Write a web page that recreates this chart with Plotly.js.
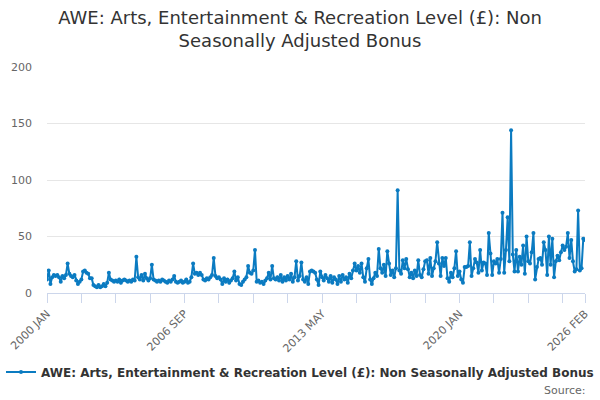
<!DOCTYPE html>
<html>
<head>
<meta charset="utf-8">
<script src="https://cdn.plot.ly/plotly-3.0.1.min.js"></script>
<style>
  html, body { margin: 0; padding: 0; background: #fff; }
  #chart { width: 600px; height: 400px; }
</style>
</head>
<body>
<div id="chart"></div>
<script>
// ======================= DATA =======================
const MONTHS = ['JAN','FEB','MAR','APR','MAY','JUN','JUL','AUG','SEP','OCT','NOV','DEC'];
const FIRST_YEAR = 2000;
const SERIES_NAME = 'AWE: Arts, Entertainment & Recreation Level (£): Non Seasonally Adjusted Bonus';

// monthly bonus values, 2000 JAN .. 2026 FEB
const bonus = [
  12, 20,  8, 14, 16, 15, 16, 14, 10, 15, 13, 16,   // 2000
  26, 17, 15, 14, 16, 11,  8, 10, 12, 19, 20, 18,   // 2001
  17, 13, 13,  7,  6,  5,  7,  5,  6,  8,  6,  9,   // 2002
  18, 12, 11, 10, 11, 10, 12,  9, 11, 12, 11, 10,   // 2003
  11, 10, 12, 11, 32, 14, 12, 16, 11, 17, 13, 11,   // 2004
  13, 25, 12, 11, 10, 11, 10, 12, 11, 10,  9, 11,   // 2005
  10, 12, 15, 10,  9, 10, 11,  9, 10, 12,  9, 10,   // 2006
  14, 26, 17, 18, 16, 18, 16, 12, 11, 13, 12, 14,   // 2007
  16, 31, 15, 13, 14, 12,  8, 13, 10, 12,  9, 11,   // 2008
  13, 19, 11, 14,  8,  7, 10, 12, 14, 24, 18, 17,   // 2009
  20, 38, 10, 11,  9, 10,  8, 11, 13, 18, 12, 24,   // 2010
  13, 12, 14, 11, 16, 10, 14, 11, 15, 12, 17, 10,   // 2011
  14, 28, 11, 15, 27, 12, 10, 14,  8, 19, 20, 19,   // 2012
  18, 12,  7, 19, 14, 11, 16, 13, 10, 15,  9, 14,   // 2013
  12,  8, 15, 10, 16, 12, 14,  9, 17, 13, 20, 26,   // 2014
  20, 24, 18, 26, 14, 10, 22, 30, 12,  8, 13, 18,   // 2015
  15, 39, 22, 18, 25, 15, 37, 26, 16, 20, 14, 22,   // 2016
  91, 20, 17, 29, 22, 30, 21, 14, 18, 13, 20, 15,   // 2017
  29, 16, 14, 21, 28, 29, 17, 31, 15, 22, 28, 45,   // 2018
  26, 15, 31, 24, 31, 13, 10, 18, 14, 22, 37, 15,   // 2019
  19, 12,  9, 23, 23, 24, 45, 15, 22, 30, 27, 18,   // 2020
  38, 20, 27, 26, 16, 53, 35, 16, 28, 26, 30, 18,   // 2021
  30, 71, 18, 38, 67, 28, 144, 34, 19, 38, 19, 32,  // 2022
  25, 42, 17, 50, 28, 26, 36, 53, 12, 23, 30, 31,   // 2023
  25, 45, 38, 16, 50, 25, 48, 14, 28, 33, 29, 36,   // 2024
  42, 38, 41, 53, 31, 47, 28, 19, 21, 73, 20, 22,   // 2025
  48, 47                                            // 2026
];

const Y_TICKS = [0, 50, 100, 150, 200];

// category labels "2000 JAN" ...
const periods = bonus.map((v, i) => (FIRST_YEAR + Math.floor(i / 12)) + ' ' + MONTHS[i % 12]);

// tick every 20 months, label every 80, plus the last month
const tickVals = [], tickText = [];
for (let i = 0; i < periods.length; i += 20) {
  tickVals.push(periods[i]);
  tickText.push(i % 80 === 0 ? periods[i] : '');
}
tickVals.push(periods[periods.length - 1]);
tickText.push(periods[periods.length - 1]);

// ======================= PLOT =======================
const blue = '#0b7bc1';

const trace = {
  x: periods, y: bonus, type: 'scatter', mode: 'lines+markers', name: SERIES_NAME,
  line: { color: blue, width: 2 },
  marker: { color: blue, size: 4 }
};

const layout = {
  width: 600, height: 400,
  font: { family: '"DejaVu Sans", Verdana, sans-serif', color: '#666' },
  paper_bgcolor: '#fff', plot_bgcolor: '#fff',
  margin: { l: 47, r: 15, t: 67, b: 107 },
  title: {
    text: 'AWE: Arts, Entertainment & Recreation Level (£): Non<br>Seasonally Adjusted Bonus',
    font: { size: 18, color: '#333' },
    x: 0.5, xref: 'container', xanchor: 'center',
    y: 0.94, yref: 'container', yanchor: 'top'
  },
  xaxis: {
    type: 'category', range: [0, periods.length - 1],
    tickmode: 'array', tickvals: tickVals, ticktext: tickText,
    tickangle: -45, tickfont: { size: 11, color: '#666' },
    ticks: 'outside', ticklen: 9, tickcolor: '#ccd6eb', tickwidth: 1,
    showline: true, linecolor: '#ccd6eb', linewidth: 1,
    showgrid: false, zeroline: false, fixedrange: true
  },
  yaxis: {
    range: [0, 200], tickvals: Y_TICKS,
    tickfont: { size: 11, color: '#666' },
    gridcolor: '#e6e6e6', gridwidth: 1,
    zeroline: false, showline: false, ticklabelstandoff: 14, fixedrange: true
  },
  showlegend: true,
  legend: {
    orientation: 'h', xref: 'container', x: 0.5, xanchor: 'center',
    yref: 'container', y: 0.07, yanchor: 'middle',
    font: { size: 12, color: '#333', weight: 'bold' }
  },
  annotations: [{
    text: 'Source:', xref: 'paper', yref: 'paper',
    x: 1.006, y: -0.43, xanchor: 'right', yanchor: 'middle',
    showarrow: false, font: { size: 11, color: '#666' }
  }]
};

Plotly.newPlot('chart', [trace], layout, { displayModeBar: false, staticPlot: true });
</script>
</body>
</html>
